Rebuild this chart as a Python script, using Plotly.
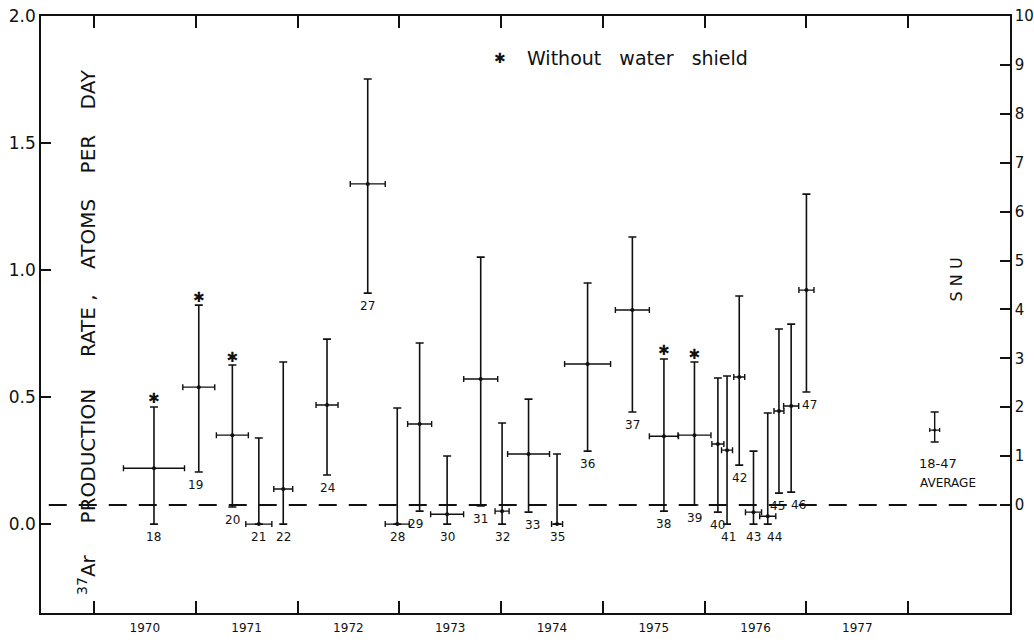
import plotly.graph_objects as go

# ---------------- data ----------------
runs = ["18", "19", "20", "21", "22", "24", "27", "28", "29", "30", "31", "32", "33",
        "35", "36", "37", "38", "39", "40", "41", "42", "43", "44", "45", "46", "47"]
year = [1970.59, 1971.03, 1971.36, 1971.62, 1971.86, 1972.29, 1972.69, 1972.98,
        1973.20, 1973.47, 1973.80, 1974.01, 1974.27, 1974.55, 1974.85, 1975.29,
        1975.60, 1975.90, 1976.13, 1976.22, 1976.34, 1976.48, 1976.62, 1976.73,
        1976.85, 1977.00]
year_err = [0.30, 0.157, 0.157, 0.128, 0.093, 0.108, 0.172, 0.118, 0.118, 0.162,
            0.167, 0.069, 0.206, 0.054, 0.226, 0.167, 0.143, 0.162, 0.059, 0.054,
            0.054, 0.079, 0.079, 0.049, 0.074, 0.074]
rate = [0.220, 0.539, 0.350, 0.000, 0.138, 0.469, 1.339, 0.000, 0.394, 0.039,
        0.571, 0.051, 0.276, 0.000, 0.630, 0.843, 0.346, 0.350, 0.315, 0.291,
        0.579, 0.047, 0.031, 0.445, 0.465, 0.921]
upper = [0.461, 0.862, 0.626, 0.339, 0.638, 0.728, 1.752, 0.457, 0.713, 0.268,
         1.051, 0.398, 0.492, 0.276, 0.949, 1.130, 0.650, 0.638, 0.575, 0.583,
         0.898, 0.287, 0.437, 0.768, 0.787, 1.299]
lower = [0.000, 0.205, 0.067, 0.000, 0.000, 0.193, 0.909, 0.000, 0.051, 0.000,
         0.071, 0.000, 0.047, 0.000, 0.287, 0.441, 0.051, 0.075, 0.047, 0.000,
         0.232, 0.000, 0.000, 0.122, 0.126, 0.520]
no_water_shield = ["18", "19", "20", "38", "39"]

avg_label = "18-47"
avg_year = [1978.26]
avg_year_err = [0.049]
avg_rate = [0.370]
avg_upper = [0.441]
avg_lower = [0.323]

year_ticks = [1970, 1971, 1972, 1973, 1974, 1975, 1976, 1977, 1978]
year_labels = ["1970", "1971", "1972", "1973", "1974", "1975", "1976", "1977"]
rate_ticks = [0.0, 0.5, 1.0, 1.5, 2.0]
rate_labels = ["0.0", "0.5", "1.0", "1.5", "2.0"]
snu_ticks = [0, 1, 2, 3, 4, 5, 6, 7, 8, 9, 10]

# SNU scale: 0 SNU at 0.075 atoms/day, 10 SNU at 2.0 atoms/day
snu_zero_rate = 0.075
snu_top_rate = 2.0
rate_range = [-0.35, 2.0]
snu_per_rate = 10.0 / (snu_top_rate - snu_zero_rate)
snu_range = [(rate_range[0] - snu_zero_rate) * snu_per_rate, 10.0]
x_range = [1969.48, 1979.0]

# small horizontal nudges (px) of a few run labels, as in the original lettering
label_nudge = {"19": -3, "29": -4, "33": 4, "41": 1, "44": 7, "45": -1, "46": 7, "47": 3}

FONT = "DejaVu Sans"
BLACK = "#111111"

plus = [u - r for u, r in zip(upper, rate)]
minus = [r - l for r, l in zip(rate, lower)]

fig = go.Figure()

fig.add_trace(go.Scatter(
    x=year, y=rate, mode="markers",
    marker=dict(size=4, color=BLACK),
    error_y=dict(type="data", symmetric=False, array=plus, arrayminus=minus,
                 color=BLACK, thickness=1.6, width=4),
    error_x=dict(type="data", array=year_err, color=BLACK, thickness=1.4, width=3),
    showlegend=False, hoverinfo="skip"))

# average point
fig.add_trace(go.Scatter(
    x=avg_year, y=avg_rate, mode="markers",
    marker=dict(size=3, color=BLACK),
    error_y=dict(type="data", symmetric=False,
                 array=[avg_upper[0] - avg_rate[0]],
                 arrayminus=[avg_rate[0] - avg_lower[0]],
                 color=BLACK, thickness=1.4, width=4),
    error_x=dict(type="data", array=avg_year_err, color=BLACK, thickness=1.2, width=2),
    showlegend=False, hoverinfo="skip"))

# stars above runs without water shield
sx = [x for x, r in zip(year, runs) if r in no_water_shield]
sy = [u for u, r in zip(upper, runs) if r in no_water_shield]
fig.add_trace(go.Scatter(
    x=sx, y=sy, mode="text", text=["✱"] * len(sx), textposition="top center",
    textfont=dict(family=FONT, size=14, color=BLACK),
    showlegend=False, hoverinfo="skip"))

# run numbers below the error bars
for r, x, lo in zip(runs, year, lower):
    fig.add_annotation(x=x, y=lo, xref="x", yref="y", text=r, showarrow=False,
                       xanchor="center", yanchor="top", yshift=-4,
                       xshift=label_nudge.get(r, 0),
                       font=dict(family=FONT, size=12, color=BLACK))

# dummy traces to attach the overlay axes
fig.add_trace(go.Scatter(x=[None], y=[None], xaxis="x2", yaxis="y",
                         showlegend=False, hoverinfo="skip"))
fig.add_trace(go.Scatter(x=[None], y=[None], xaxis="x", yaxis="y2",
                         showlegend=False, hoverinfo="skip"))

# SNU zero line
fig.add_shape(type="line", xref="paper", yref="y2", x0=0.008, x1=1.0, y0=0, y1=0,
              line=dict(color=BLACK, width=2, dash="18px,12px"))

nb = "\u00a0"
title = ("<sup>37</sup>Ar" + nb * 5 + "PRODUCTION" + nb * 5 + "RATE" + nb + "," + nb * 4 +
         "ATOMS" + nb * 4 + "PER" + nb * 4 + "DAY")
fig.add_annotation(x=0.048, y=0.47, xref="paper", yref="paper", text=title,
                   textangle=-90, showarrow=False, xanchor="center", yanchor="middle",
                   font=dict(family=FONT, size=20, color=BLACK))
fig.add_annotation(x=0.9567, y=0.558, xref="paper", yref="paper",
                   text="S" + nb + "N" + nb + "U", textangle=-90, showarrow=False,
                   font=dict(family=FONT, size=16, color=BLACK))
fig.add_annotation(x=0.4737, y=0.9296, xref="paper", yref="paper", text="✱",
                   showarrow=False, xanchor="center", yanchor="middle",
                   font=dict(family=FONT, size=14, color=BLACK))
fig.add_annotation(x=0.4995, y=0.9296, xref="paper", yref="paper",
                   text="Without" + nb * 3 + "water" + nb * 3 + "shield",
                   showarrow=False, xanchor="left", yanchor="middle",
                   font=dict(family=FONT, size=19, color=BLACK))
fig.add_annotation(x=avg_year[0], y=avg_lower[0], xref="x", yref="y", text=avg_label,
                   showarrow=False, xanchor="center", yanchor="top", yshift=-12, xshift=3,
                   font=dict(family=FONT, size=13, color=BLACK))
fig.add_annotation(x=avg_year[0], y=avg_lower[0], xref="x", yref="y", text="AVERAGE",
                   showarrow=False, xanchor="center", yanchor="top", yshift=-32, xshift=13,
                   font=dict(family=FONT, size=12, color=BLACK))

axis_common = dict(showgrid=False, zeroline=False, color=BLACK, linecolor=BLACK,
                   tickcolor=BLACK, automargin=False)

fig.update_layout(
    width=1034, height=643,
    margin=dict(l=41, r=24, t=16, b=30, autoexpand=False),
    paper_bgcolor="white", plot_bgcolor="white",
    font=dict(family=FONT, color=BLACK),
    xaxis=dict(range=x_range, tickmode="array", tickvals=year_ticks,
               showticklabels=False, ticks="inside", ticklen=12,
               tickwidth=1.5, showline=True, linewidth=1.6, mirror="ticks",
               **axis_common),
    xaxis2=dict(range=x_range, overlaying="x", side="bottom", anchor="y",
                tickmode="array", tickvals=[y + 0.5 for y in year_ticks[:-1]],
                ticktext=year_labels, ticks="", showline=False,
                ticklabelstandoff=6,
                tickfont=dict(family=FONT, size=12, color=BLACK),
                **axis_common),
    yaxis=dict(range=rate_range, tickmode="array", tickvals=rate_ticks,
               ticktext=rate_labels, ticks="inside", ticklen=10, tickwidth=1.5,
               showline=True, linewidth=1.6,
               tickfont=dict(family=FONT, size=17, color=BLACK),
               **axis_common),
    yaxis2=dict(range=snu_range, overlaying="y", side="right", anchor="x",
                tickmode="array", tickvals=snu_ticks, ticks="inside", ticklen=10,
                tickwidth=1.5, showline=True, linewidth=1.6,
                tickfont=dict(family=FONT, size=15, color=BLACK),
                **axis_common),
    showlegend=False,
)

fig.write_html("out.html")
